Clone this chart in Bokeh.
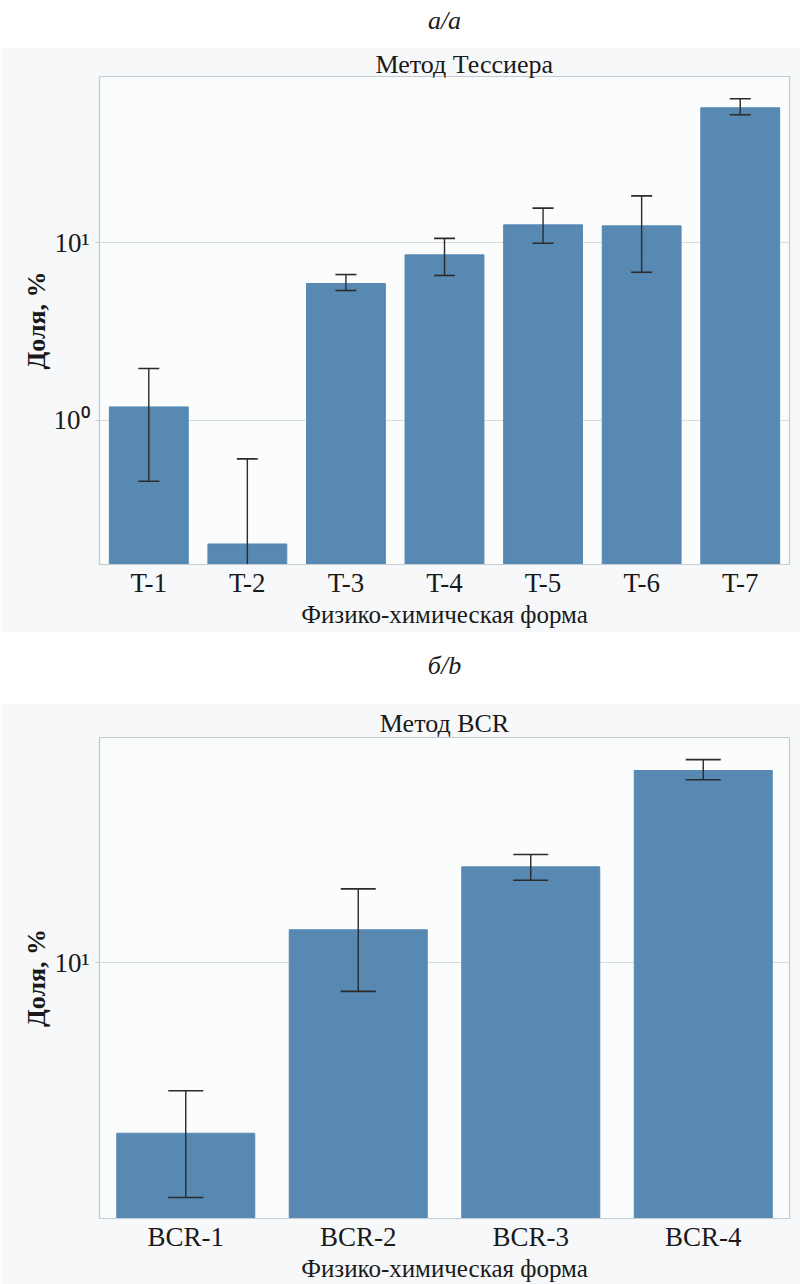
from bokeh.plotting import figure
from bokeh.layouts import column
from bokeh.models import ColumnDataSource, FactorRange, Range1d, FixedTicker
from bokeh.core.properties import value
from bokeh.embed import file_html
from bokeh.resources import INLINE

# ---- data: Tessier method ----
t_forms = ["T-1", "T-2", "T-3", "T-4", "T-5", "T-6", "T-7"]
t_mean = [1.19, 0.201, 5.90, 8.56, 12.63, 12.47, 57.7]
t_low = [0.454, 0.01, 5.39, 6.55, 9.95, 6.83, 52.7]
t_high = [1.96, 0.606, 6.63, 10.6, 15.7, 18.4, 64.9]

# ---- data: BCR method ----
b_forms = ["BCR-1", "BCR-2", "BCR-3", "BCR-4"]
b_mean = [2.175, 13.41, 23.54, 55.69]
b_low = [1.224, 7.73, 20.87, 51.29]
b_high = [3.18, 19.33, 26.29, 61.35]

y_ticks = [1, 10]
y_tick_labels = {1: "10⁰", 10: "10¹"}

FONT = "Liberation Serif"
BAR = "#5789b3"
PANEL = "#f7f8f9"
FRAME_BG = "#fbfcfc"
LINEC = "#c3ccd3"
TXT = "#1a1a1a"
W = 800


def header(text, h, ty):
    p = figure(width=W, height=h, x_range=(0, 1), y_range=(0, h),
               toolbar_location=None, output_backend="svg",
               min_border=0, outline_line_color=None,
               border_fill_color="white", background_fill_color="white")
    p.axis.visible = False
    p.grid.visible = False
    p.text(x=[0.5], y=[h - ty], text=[text], text_font=value(FONT),
           text_font_style="italic", text_font_size="26px",
           text_align="center", text_baseline="middle", text_color=TXT)
    return p


def panel(title, forms, mean, low, high, ymin, ymax, h, top, bottom, cap,
          title_align, title_offset, title_standoff):
    src = ColumnDataSource(dict(x=forms, top=mean, low=low, high=high,
                                base=[1e-4] * len(forms)))
    p = figure(width=W, height=h, x_range=FactorRange(*forms),
               y_range=Range1d(ymin, ymax), y_axis_type="log",
               toolbar_location=None, output_backend="svg",
               min_border_left=99, min_border_right=11,
               min_border_top=top, min_border_bottom=bottom,
               border_fill_color=PANEL, background_fill_color=FRAME_BG,
               outline_line_color=LINEC, outline_line_width=1.2)
    p.title.text = title
    p.title.align = title_align
    p.title.offset = title_offset
    p.title.text_font = FONT
    p.title.text_font_style = "normal"
    p.title.text_font_size = "26px"
    p.title.text_color = TXT
    p.title.standoff = title_standoff

    p.vbar(x="x", top="top", bottom="base", width=0.8, source=src,
           fill_color=BAR, line_color=BAR)
    p.segment(x0="x", y0="low", x1="x", y1="high", source=src,
              line_color="#2b2b2b", line_width=1.4)
    p.scatter(x="x", y="high", marker="dash", size=cap, source=src,
              line_color="#2b2b2b", line_width=1.6)
    p.scatter(x="x", y="low", marker="dash", size=cap, source=src,
              line_color="#2b2b2b", line_width=1.6)

    p.xgrid.visible = False
    p.ygrid.grid_line_color = "#d9dcdc"
    p.ygrid.grid_line_width = 1.2
    p.ygrid.minor_grid_line_color = None
    p.yaxis.ticker = FixedTicker(ticks=y_ticks, minor_ticks=[])
    p.yaxis.major_label_overrides = y_tick_labels

    for ax in (p.xaxis, p.yaxis):
        ax.axis_line_color = LINEC
        ax.axis_line_width = 1.2
        ax.major_label_text_font = FONT
        ax.major_label_text_font_size = "27px"
        ax.major_label_text_color = TXT
        ax.axis_label_text_font = FONT
        ax.axis_label_text_color = TXT
        ax.minor_tick_line_color = None
    p.xaxis.major_tick_line_color = None
    p.xaxis.major_tick_out = 0
    p.xaxis.major_label_standoff = 3
    p.xaxis.axis_label = "Физико-химическая форма"
    p.xaxis.axis_label_text_font_style = "normal"
    p.xaxis.axis_label_text_font_size = "25px"
    p.xaxis.axis_label_standoff = 0
    p.yaxis.major_tick_line_color = LINEC
    p.yaxis.major_tick_out = 4
    p.yaxis.major_tick_in = 0
    p.yaxis.major_label_standoff = 6
    p.yaxis.axis_label = "Доля, %"
    p.yaxis.axis_label_text_font_style = "bold"
    p.yaxis.axis_label_text_font_size = "26px"
    p.yaxis.axis_label_standoff = 0
    return p


h1 = header("а/a", 47, 20)
p1 = panel("Метод Тессиера", t_forms, t_mean, t_low, t_high,
           0.154, 86.6, 585, 29, 68, 21, "left", 276, -4)
h2 = header("б/b", 71, 33)
p2 = panel("Метод BCR", b_forms, b_mean, b_low, b_high,
           1.015, 74.8, 581, 34, 58, 35, "center", 0, -1)

layout = column(h1, p1, h2, p2, spacing=0)
open("out.html", "w").write(file_html(layout, INLINE))
